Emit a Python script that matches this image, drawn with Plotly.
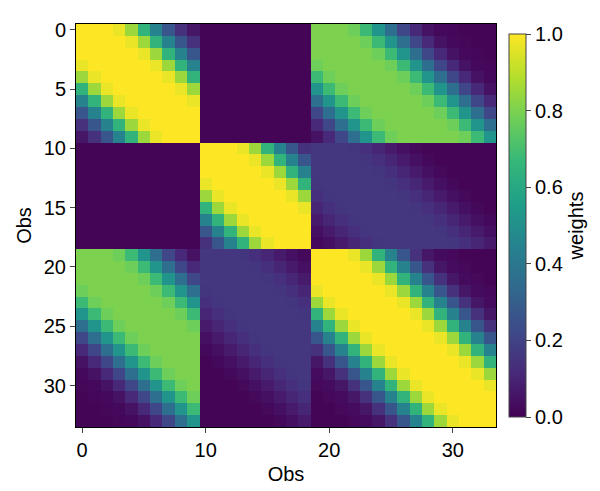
import plotly.graph_objects as go

block_sizes = [10, 9, 15]
# weight by lag within/between blocks
lag_profile = [1.0, 1.0, 1.0, 0.97, 0.85, 0.65, 0.45, 0.27, 0.14, 0.06, 0.03, 0.02, 0.01, 0.0, 0.0, 0.0]
block_scale = [[1.0, 0.0, 0.8],
               [0.0, 1.0, 0.16],
               [0.8, 0.16, 1.0]]

labels = []
for b, n in enumerate(block_sizes):
    for p in range(n):
        labels.append((b, p))
N = len(labels)
z = []
for i in range(N):
    bi, pi = labels[i]
    row = []
    for j in range(N):
        bj, pj = labels[j]
        lag = min(abs(pi - pj), len(lag_profile) - 1)
        v = block_scale[bi][bj] * lag_profile[lag]
        row.append(max(v, 0.01))
    z.append(row)

tf = dict(size=20, family="Liberation Sans, Arial", color="black")
fig = go.Figure(go.Heatmap(
    z=z, x=list(range(N)), y=list(range(N)), colorscale="Viridis", zmin=0, zmax=1,
    colorbar=dict(title=dict(text="weights", side="right", font=tf),
                  tickvals=[0, 0.2, 0.4, 0.6, 0.8, 1.0], ticktext=["0.0", "0.2", "0.4", "0.6", "0.8", "1.0"],
                  thickness=17, len=1.0, y=0.5, yanchor="middle", x=1.03, xpad=0,
                  outlinewidth=1, ticks="outside", ticklen=5, tickfont=tf)))
fig.update_layout(
    width=600, height=491, margin=dict(l=68, r=112, t=16, b=72),
    font=tf, plot_bgcolor="white", paper_bgcolor="white",
    xaxis=dict(title=dict(text="Obs", standoff=6, font=tf), tickfont=tf, tickvals=[0, 10, 20, 30],
               ticks="outside", ticklen=5,
               showline=True, linecolor="black", mirror=True, showgrid=False, zeroline=False,
               range=[-0.5, N - 0.5]),
    yaxis=dict(title=dict(text="Obs", standoff=6, font=tf), tickfont=tf, tickvals=[0, 5, 10, 15, 20, 25, 30],
               ticks="outside", ticklen=5,
               showline=True, linecolor="black", mirror=True, showgrid=False, zeroline=False,
               range=[N - 0.5, -0.5]),
)
fig.write_html("out.html")
